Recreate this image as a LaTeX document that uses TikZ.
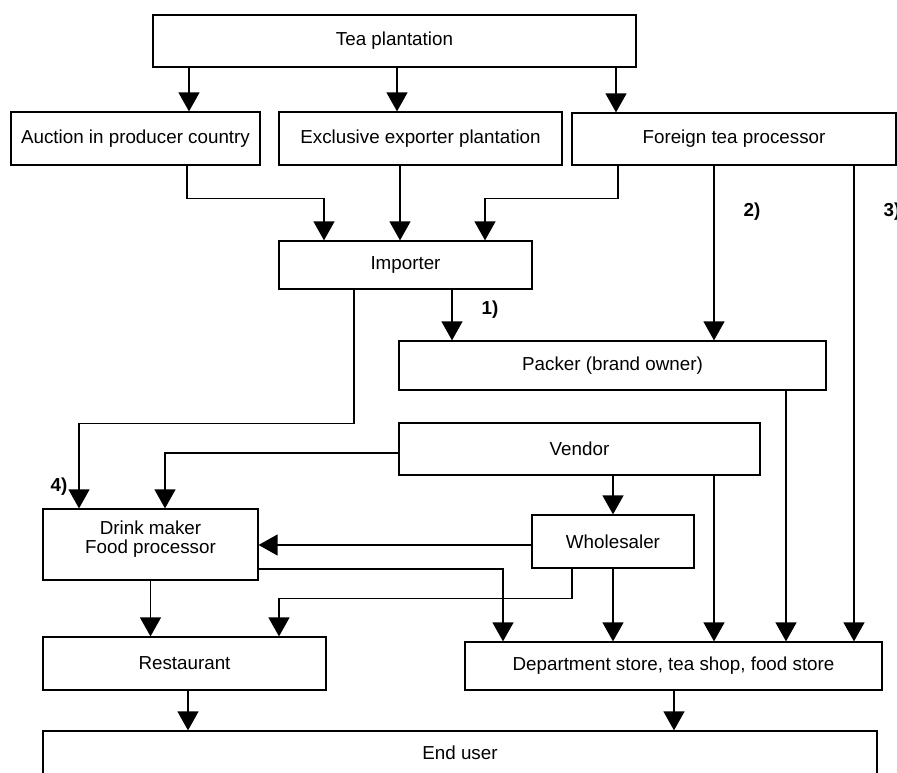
\documentclass[tikz,border=0pt]{standalone}
\usepackage{fontspec}
\setmainfont{Liberation Sans}
\usetikzlibrary{arrows.meta,positioning}
\tikzset{
    stage/.style={draw,line width=0.7pt,inner sep=0pt,align=center},
    arr/.style={-{Triangle[length=0.38cm,width=0.42cm]},line width=0.7pt},
    route label/.style={font=\fontsize{10.7}{12.8}\selectfont\bfseries,inner sep=0pt},
}
\tikzstyle{every node}=[font=\fontsize{10.7}{12.8}\selectfont]

\begin{document}
\begin{tikzpicture}[x=0.02cm,y=-0.02cm]
    \useasboundingbox (0,0) rectangle (897,773);

    % supply side
    \node[stage, minimum width=9.66cm, minimum height=1.04cm] (tea) at (394.5,41) {Tea plantation};
    \node[stage, minimum width=4.98cm, minimum height=1.06cm] (auction) at (135.5,138.5) {Auction in producer country};
    \node[stage, minimum width=5.66cm, minimum height=1.06cm] (exporter) at (420.5,138.5) {Exclusive exporter plantation};
    \node[stage, minimum width=6.48cm, minimum height=1.04cm] (foreign) at (734,139) {Foreign tea processor};
    \node[stage, minimum width=5.06cm, minimum height=0.96cm] (importer) at (405.5,265) {Importer};
    \node[stage, minimum width=8.54cm, minimum height=0.98cm] (packer) at (612.5,365.5) {Packer (brand owner)};

    % distribution side
    \node[stage, minimum width=7.22cm, minimum height=1.04cm] (vendor) at (579.5,449) {Vendor};
    \node[stage, minimum width=4.30cm, minimum height=1.42cm, font=\fontsize{10.7}{11}\selectfont, text depth=8pt] (drink) at (150.5,544.5) {Drink maker\\Food processor};
    \node[stage, minimum width=3.24cm, minimum height=1.06cm] (wholesaler) at (613,541.5) {Wholesaler};
    \node[stage, minimum width=5.66cm, minimum height=1.06cm] (restaurant) at (184.5,663.5) {Restaurant};
    \node[stage, minimum width=8.34cm, minimum height=0.96cm] (store) at (673.5,666) {Department store, tea shop, food store};
    \node[stage, minimum width=16.68cm, minimum height=0.88cm] (enduser) at (460,753) {End user};

    % route numbers
    \node[route label] (r1) at (490,310) {1)};
    \node[route label] (r2) at (752,212) {2)};
    \node[route label] (r3) at (892,212) {3)};
    \node[route label] (r4) at (59,487) {4)};

    \draw[arr] (tea.south -| 189,0) -- (auction.north -| 189,0);
    \draw[arr] (tea.south -| 397,0) -- (exporter.north -| 397,0);
    \draw[arr] (tea.south -| 616,0) -- (foreign.north -| 616,0);

    \draw[arr] (auction.south -| 187,0) -- ++(0,33) -| (importer.north -| 324,0);
    \draw[arr] (exporter.south -| 400,0) -- (importer.north -| 400,0);
    \draw[arr] (foreign.south -| 618,0) -- ++(0,33) -| (importer.north -| 485,0);

    \draw[arr] (importer.south -| 452,0) -- (packer.north -| 452,0);
    \draw[arr] (foreign.south -| 714,0) -- (packer.north -| 714,0);
    \draw[arr] (foreign.south -| 854,0) -- (store.north -| 854,0);
    \draw[arr] (importer.south -| 354,0) -- ++(0,134) -| (drink.north -| 79,0);

    \draw[arr] (vendor.west |- 0,453) -| (drink.north -| 165,0);
    \draw[arr] (vendor.south -| wholesaler.north) -- (wholesaler.north);
    \draw[arr] (vendor.south -| 714,0) -- (store.north -| 714,0);
    \draw[arr] (packer.south -| 786,0) -- (store.north -| 786,0);

    \draw[arr] (wholesaler.west |- 0,545) -- (drink.east |- 0,545);
    \draw[arr] (drink.east |- 0,569) -| (store.north -| 503,0);
    \draw[arr] (wholesaler.south -| 572,0) -- ++(0,30) -| (restaurant.north -| 279,0);
    \draw[arr] (wholesaler.south) -- (store.north -| wholesaler.south);
    \draw[arr] (drink.south) -- (drink.south |- restaurant.north);

    \draw[arr] (restaurant.south -| 188,0) -- (enduser.north -| 188,0);
    \draw[arr] (store.south -| 674,0) -- (enduser.north -| 674,0);
\end{tikzpicture}
\end{document}
